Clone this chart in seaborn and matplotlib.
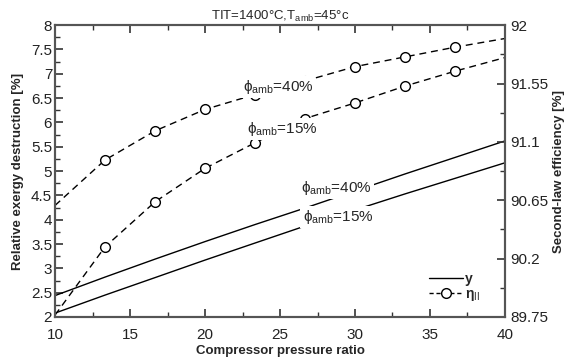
import numpy as np
import pandas as pd
import matplotlib
matplotlib.use("Agg")
import matplotlib.pyplot as plt
from matplotlib.lines import Line2D
from matplotlib.ticker import MultipleLocator, FixedLocator
import seaborn as sns

sns.set_style("ticks")
plt.rcParams['font.family'] = ['Liberation Sans', 'DejaVu Sans']
plt.rcParams['mathtext.fontset'] = 'custom'
plt.rcParams['mathtext.rm'] = 'Liberation Sans'
plt.rcParams['mathtext.it'] = 'Liberation Sans:italic'
plt.rcParams['mathtext.bf'] = 'Liberation Sans:bold'

# compressor pressure ratio
pressure_ratio = [10, 13.33, 16.67, 20, 23.33, 26.67, 30, 33.33, 36.67, 40]
# relative exergy destruction y [%] (left axis)
y_phi40 = [2.44, 2.82, 3.19, 3.55, 3.90, 4.24, 4.59, 4.94, 5.28, 5.62]
y_phi15 = [2.08, 2.45, 2.81, 3.17, 3.52, 3.87, 4.20, 4.53, 4.85, 5.17]
# second-law efficiency [%] (right axis)
eta_phi40 = [90.61, 90.96, 91.185, 91.35, 91.465, 91.57, 91.68, 91.755, 91.83, 91.897]
eta_phi15 = [89.765, 90.29, 90.638, 90.896, 91.093, 91.28, 91.40, 91.53, 91.645, 91.75]

left_ticks = [2, 2.5, 3, 3.5, 4, 4.5, 5, 5.5, 6, 6.5, 7, 7.5, 8]
right_ticks = [89.75, 90.2, 90.65, 91.1, 91.55, 92]
x_ticks = [10, 15, 20, 25, 30, 35, 40]

df = pd.DataFrame({"pr": pressure_ratio, "y40": y_phi40, "y15": y_phi15,
                   "e40": eta_phi40, "e15": eta_phi15})

fig = plt.figure(figsize=(5.69, 3.59), dpi=100)
ax = fig.add_axes([0.0967, 0.117, 0.7908, 0.813])
ax2 = ax.twinx()

sns.lineplot(data=df, x="pr", y="y40", ax=ax, color="black", lw=1.0)
sns.lineplot(data=df, x="pr", y="y15", ax=ax, color="black", lw=1.0)
for col in ["e40", "e15"]:
    sns.lineplot(data=df, x="pr", y=col, ax=ax2, color="black", lw=1.0,
                 linestyle=(0, (5, 3.5)), marker="o", markersize=7,
                 markerfacecolor="white", markeredgecolor="black",
                 markeredgewidth=1.0, markevery=list(range(1, 9)))

ax.set_xlim(10, 40)
ax.set_ylim(2, 8)
ax2.set_ylim(89.75, 92)
ax.xaxis.set_major_locator(FixedLocator(x_ticks))
ax.xaxis.set_minor_locator(MultipleLocator(2.5))
ax.yaxis.set_major_locator(FixedLocator(left_ticks))
ax.yaxis.set_minor_locator(MultipleLocator(0.25))
ax2.yaxis.set_major_locator(FixedLocator(right_ticks))
ax2.yaxis.set_minor_locator(FixedLocator([89.975, 90.425, 90.875, 91.325, 91.775]))
ax.set_yticklabels([f"{t:g}" for t in left_ticks])
ax2.set_yticklabels([f"{t:g}" for t in right_ticks])

ax.tick_params(which="both", direction="in", top=True, right=False,
               labelsize=11, pad=2, color="#333333", labelcolor="#222222")
ax.tick_params(which="major", length=6, width=1.2)
ax.tick_params(which="minor", length=3.5, width=1.0)
ax.tick_params(axis="x", pad=8)
ax2.tick_params(which="both", direction="in", labelsize=11, pad=4,
                color="#333333", labelcolor="#222222")
ax2.tick_params(which="major", length=6, width=1.2)
ax2.tick_params(which="minor", length=3.5, width=1.0)

for a in (ax, ax2):
    for s in a.spines.values():
        s.set_color("#555555")
        s.set_linewidth(1.5)

ax.set_xlabel("Compressor pressure ratio", fontsize=9.5, fontweight="bold", labelpad=2)
ax.set_ylabel("Relative exergy destruction [%]", fontsize=9.5, fontweight="bold", labelpad=5)
ax2.set_ylabel("Second-law efficiency [%]", fontsize=9.5, fontweight="bold", labelpad=3)
ax.set_title(r"TIT=1400°C,T$_{\mathrm{amb}}$=45°c", fontsize=9.5, pad=4)

box = dict(facecolor="white", edgecolor="none", pad=1.5)
ax2.text(22.5, 91.525, r"ϕ$_{\mathrm{amb}}$=40%", fontsize=11, va="center", ha="left", bbox=box, zorder=5)
ax2.text(22.8, 91.2, r"ϕ$_{\mathrm{amb}}$=15%", fontsize=11, va="center", ha="left", bbox=box, zorder=5)
ax.text(26.4, 4.65, r"ϕ$_{\mathrm{amb}}$=40%", fontsize=11, va="center", ha="left", bbox=box, zorder=5)
ax.text(26.5, 4.05, r"ϕ$_{\mathrm{amb}}$=15%", fontsize=11, va="center", ha="left", bbox=box, zorder=5)

handles = [Line2D([], [], color="black", lw=1.0),
           Line2D([], [], color="black", lw=1.0, linestyle=(0, (3, 2)), marker="o",
                  markersize=7, markerfacecolor="white", markeredgecolor="black")]
leg = ax2.legend(handles, ["y", r"η$_{\mathrm{II}}$"], loc="lower left",
                 bbox_to_anchor=(0.81, 0.015), frameon=False, fontsize=10,
                 handlelength=2.4, handletextpad=0.2, labelspacing=0.05,
                 borderpad=0.2)
for t in leg.get_texts():
    t.set_fontweight("bold")

fig.savefig("out.png", dpi=100)
